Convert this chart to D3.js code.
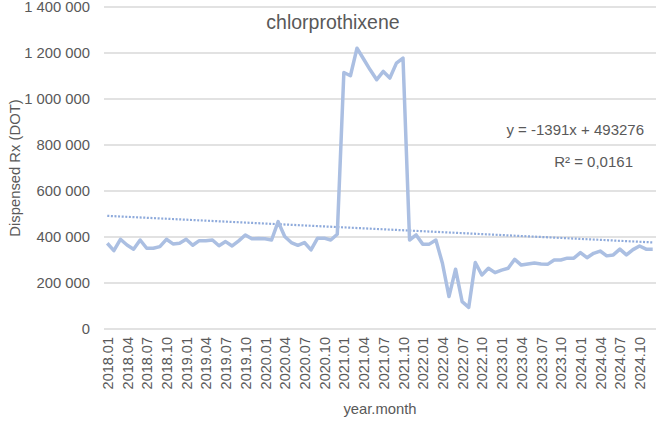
<!DOCTYPE html>
<html>
<head>
<meta charset="utf-8">
<script src="https://cdn.jsdelivr.net/npm/d3@7"></script>
<style>
  body { margin: 0; background: #fff; }
  svg { display: block; font-family: "Liberation Sans", Arial, sans-serif; }
  text { fill: #595959; }
</style>
</head>
<body>
<svg id="chart" width="658" height="421"></svg>
<script>
// category parts (year.month)
const years = [2018, 2019, 2020, 2021, 2022, 2023, 2024];
const months = ["01","02","03","04","05","06","07","08","09","10","11","12"];

// monthly dispensed DOT (thousands)
const values_k = [
  373, 341, 390, 365, 347, 387, 351, 351, 358, 390, 370, 373,
  390, 364, 384, 384, 387, 362, 380, 361, 383, 409, 392, 393,
  392, 387, 467, 402, 376, 364, 376, 344, 395, 395, 387, 412,
  1115, 1101, 1221, 1174, 1127, 1084, 1120, 1091, 1156, 1178, 387, 409,
  369, 369, 387, 286, 141, 260, 119, 94, 289, 235, 264, 245,
  256, 264, 303, 278, 283, 287, 283, 281, 300, 300, 308, 308,
  332, 310, 329, 339, 318, 322, 347, 322, 345, 361, 347, 347
];

const yTicks = [0, 200000, 400000, 600000, 800000, 1000000, 1200000, 1400000];

// linear trend shown on chart
const trendSlope = -1391;
const trendIntercept = 493276;
const trendLabel = "y = -1391x + 493276";
const r2Label = "R\u00b2 = 0,0161";

const title = "chlorprothixene";

const categories = [];
years.forEach(y => months.forEach(m => categories.push(y + "." + m)));
const data = categories.map((c, i) => ({ cat: c, idx: i + 1, value: values_k[i] * 1000 }));

const svg = d3.select('#chart');
const margin = { top: 7, bottom: 92, right: 2, left: 104 };
const width = 658, height = 421;
const innerWidth = width - margin.left - margin.right;
const innerHeight = height - margin.top - margin.bottom;

const xScale = d3.scalePoint()
    .domain(categories)
    .range([0, innerWidth])
    .padding(0.5);
const yScale = d3.scaleLinear()
    .domain([0, 1400000])
    .range([innerHeight, 0]);

const g = svg.append('g')
    .attr('transform', `translate(${margin.left},${margin.top})`);

// gridlines
g.append('g').selectAll('line')
    .data(yTicks)
    .enter()
    .append('line')
    .attr('x1', 0)
    .attr('x2', innerWidth)
    .attr('y1', d => yScale(d))
    .attr('y2', d => yScale(d))
    .attr('stroke', '#d9d9d9')
    .attr('stroke-width', 1.3);

const fmt = d3.formatLocale({ decimal: ",", thousands: " ", grouping: [3], currency: ["", ""] }).format(",");

const yAxis = d3.axisLeft(yScale).tickValues(yTicks).tickFormat(fmt).tickSize(0).tickPadding(14);
g.append('g').call(yAxis)
    .call(a => a.select('.domain').remove())
    .selectAll('text')
    .style('font-size', '14.8px')
    .attr('fill', '#595959');

const xAxis = d3.axisBottom(xScale)
    .tickValues(categories.filter((c, i) => i % 3 === 0))
    .tickSize(0);
g.append('g').call(xAxis)
    .attr('transform', `translate(0,${innerHeight})`)
    .call(a => a.select('.domain').remove())
    .selectAll('text')
    .style('font-size', '14.5px')
    .attr('fill', '#595959')
    .style('text-anchor', 'end')
    .attr('x', -8)
    .attr('y', 0)
    .attr('dy', '0.35em')
    .attr('transform', 'rotate(-90)');

// trend line (dotted)
const first = data[0], last = data[data.length - 1];
g.append('line')
    .attr('x1', xScale(first.cat))
    .attr('x2', xScale(last.cat))
    .attr('y1', yScale(trendSlope * first.idx + trendIntercept))
    .attr('y2', yScale(trendSlope * last.idx + trendIntercept))
    .attr('stroke', '#8eaadb')
    .attr('stroke-width', 2.2)
    .attr('stroke-dasharray', '2,1.6');

// series line
const line = d3.line()
    .x(d => xScale(d.cat))
    .y(d => yScale(d.value));
g.append('path')
    .datum(data)
    .attr('fill', 'none')
    .attr('stroke', '#abbfe2')
    .attr('stroke-width', 3.5)
    .attr('stroke-linejoin', 'round')
    .attr('d', line);

// title
svg.append('text')
    .attr('x', 333)
    .attr('y', 29)
    .attr('text-anchor', 'middle')
    .style('font-size', '19.5px')
    .text(title);

// trend labels
svg.append('text')
    .attr('x', 644)
    .attr('y', 135)
    .attr('text-anchor', 'end')
    .style('font-size', '15px')
    .text(trendLabel);
svg.append('text')
    .attr('x', 633)
    .attr('y', 167)
    .attr('text-anchor', 'end')
    .style('font-size', '15px')
    .text(r2Label);

// axis labels
svg.append('text')
    .attr('transform', 'rotate(-90)')
    .attr('x', -(margin.top + innerHeight / 2))
    .attr('y', 20)
    .attr('text-anchor', 'middle')
    .style('font-size', '14.8px')
    .text('Dispensed Rx (DOT)');
svg.append('text')
    .attr('x', margin.left + innerWidth / 2)
    .attr('y', 414)
    .attr('text-anchor', 'middle')
    .style('font-size', '14.8px')
    .text('year.month');
</script>
</body>
</html>
